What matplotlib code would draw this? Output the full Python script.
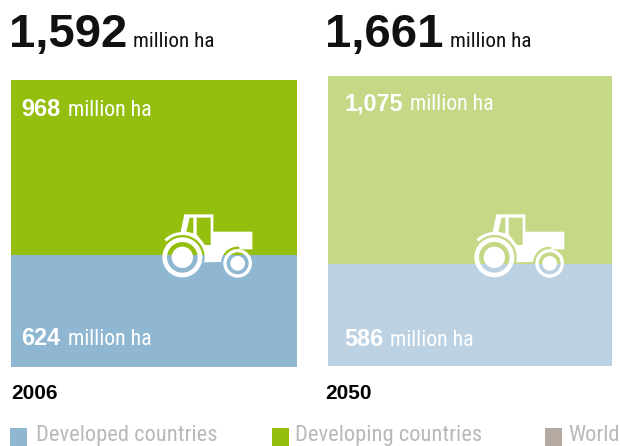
import matplotlib
matplotlib.use('Agg')
import matplotlib.pyplot as plt
import numpy as np
from matplotlib.patches import Circle, Polygon, Rectangle

# Data
years = ['2006', '2050']
developed = [624, 586]
developing = [968, 1075]
totals = [1592, 1661]
total_labels = ['1,592', '1,661']
developed_labels = ['624', '586']
developing_labels = ['968', '1,075']
unit = 'million ha'
legend_names = ['Developed countries', 'Developing countries', 'World']

blue = '#8fb7d2'
green = '#95bf0f'
colors_developed = [blue, '#bcd1e2']
colors_developing = [green, '#c4d886']
legend_colors = [blue, green, '#b5aaa2']

BOLD = ['Liberation Sans', 'DejaVu Sans']
NARROW = ['Roboto Condensed', 'DejaVu Sans']

W, H = 620, 446
fig = plt.figure(figsize=(W / 100, H / 100), dpi=100)


def px_axes(left, top, right, bottom):
    return fig.add_axes([left / W, 1 - bottom / H, (right - left) / W, (bottom - top) / H])


# one stacked bar per year, each fills its own axes
boxes = [(11, 80, 297, 367), (328, 76, 612, 366)]
for i, box in enumerate(boxes):
    ax = px_axes(*box)
    ax.bar([0], [developed[i]], width=1, color=colors_developed[i], linewidth=0)
    ax.bar([0], [developing[i]], width=1, bottom=[developed[i]], color=colors_developing[i], linewidth=0)
    ax.set_xlim(-0.5, 0.5)
    ax.set_ylim(0, totals[i])
    ax.axis('off')

# overlay in pixel coordinates for text, tractors and legend
ov = fig.add_axes([0, 0, 1, 1], zorder=5)
ov.set_xlim(0, W)
ov.set_ylim(H, 0)
ov.axis('off')
ov.patch.set_alpha(0)


def arc(cx, cy, r, a0, a1, n=30):
    t = np.radians(np.linspace(a0, a1, n))
    return np.column_stack([cx + r * np.cos(t), cy - r * np.sin(t)])


def tractor(x0, y0, bg_top):
    # coordinates in 1/3 px, same layout as the glyph
    def to_px(p):
        return np.asarray(p, float) / 3 + [x0, y0]

    wheel1 = (97, 172)
    wheel2 = (263, 190)
    body = np.vstack([
        [[103, 43], [190, 43], [190, 95], [307, 95], [307, 148], [268, 148]],
        arc(wheel2[0], wheel2[1], 50, 85, 175),
        [[160, 187]],
        arc(wheel1[0], wheel1[1], 67, -12, 135),
        arc(wheel1[0], wheel1[1], 76, 135, 88),
        [[92, 96]],
    ])
    ov.add_patch(Polygon(to_px(body), closed=True, fc='white', ec='none'))
    # windows show the top colour through the cab
    ov.add_patch(Polygon(to_px([[109, 95], [119, 53], [130, 53], [130, 100]]), closed=True, fc=bg_top, ec='none'))
    ov.add_patch(Polygon(to_px([[140, 53], [182, 53], [182, 135], [165, 135], [140, 103]]), closed=True, fc=bg_top, ec='none'))
    for c, r_out, r_in, r_hub in [(wheel1, 60, 46, 32), (wheel2, 43, 33, 22)]:
        cc = to_px(c)
        ov.add_patch(Circle(cc, (r_out + r_in) / 6, fc='none', ec='white', lw=(r_out - r_in) / 3 * 0.72))
        ov.add_patch(Circle(cc, r_hub / 3, fc='white', ec='none'))


tractor(150, 200, colors_developing[0])
tractor(462, 200, colors_developing[1])

# headline totals
total_x = [8.5, 324.5]
unit_x = [133, 450]
for i in range(2):
    ov.text(total_x[i], 47, total_labels[i], family=BOLD, weight='bold', fontsize=34, color='#111111', va='baseline')
    ov.text(unit_x[i], 47, unit, family=NARROW, fontsize=15.2, color='#111111', va='baseline')

# labels in the blocks
ov.text(21.5, 116, developing_labels[0], family=BOLD, weight='bold', fontsize=16.8, color='white')
ov.text(68, 116, unit, family=NARROW, fontsize=15.7, color='white')
ov.text(21.5, 345, developed_labels[0], family=BOLD, weight='bold', fontsize=16.8, color='white')
ov.text(68, 345, unit, family=NARROW, fontsize=15.7, color='white')
ov.text(344, 110, developing_labels[1], family=BOLD, weight='bold', fontsize=16.8, color='white')
ov.text(410, 110, unit, family=NARROW, fontsize=15.7, color='white')
ov.text(344, 346, developed_labels[1], family=BOLD, weight='bold', fontsize=16.8, color='white')
ov.text(390, 346, unit, family=NARROW, fontsize=15.7, color='white')

# years
ov.text(11.5, 399, years[0], family=BOLD, weight='bold', fontsize=15, color='black')
ov.text(325, 399, years[1], family=BOLD, weight='bold', fontsize=15, color='black')

# legend
square_x = [10, 272, 545]
text_x = [36, 295, 568]
for i in range(3):
    ov.add_patch(Rectangle((square_x[i], 428), 17, 18, fc=legend_colors[i], ec='none'))
    ov.text(text_x[i], 441, legend_names[i], family=NARROW, fontsize=16.2, color='#b9b9b9', clip_on=False)

plt.savefig('out.png', dpi=100)
